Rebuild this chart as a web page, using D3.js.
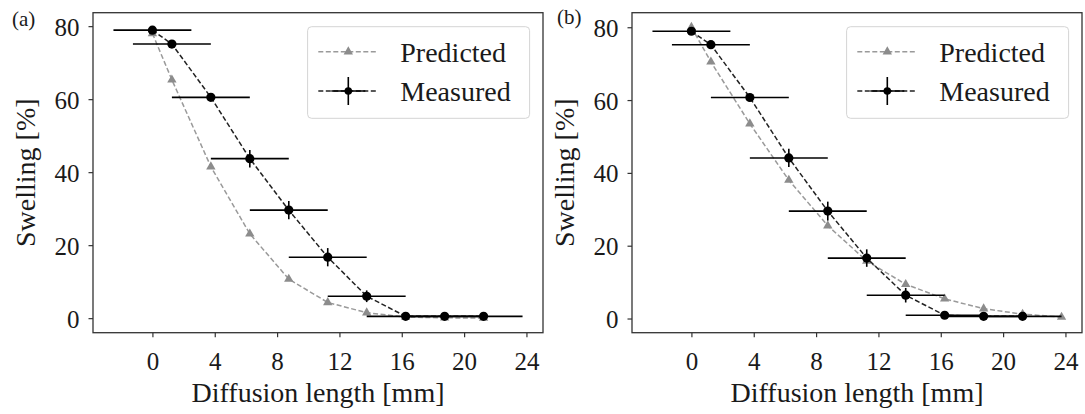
<!DOCTYPE html>
<html>
<head>
<meta charset="utf-8">
<script src="https://cdn.jsdelivr.net/npm/d3@7"></script>
<style>
  html, body { margin: 0; padding: 0; background: #fff; }
  svg { display: block; }
  svg text { font-family: "Times New Roman", "Liberation Serif", Tinos, "DejaVu Serif", serif !important; fill: #1a1a1a; }
</style>
</head>
<body>
<svg id="chart" width="1085" height="414"></svg>
<script>
// ---------------- data ----------------
const panelLabels = ["(a)", "(b)"];
const xTicks = [0, 4, 8, 12, 16, 20, 24];
const yTicks = [0, 20, 40, 60, 80];
const xLabel = "Diffusion length [mm]";
const yLabel = "Swelling [%]";
const seriesNames = ["Predicted", "Measured"];

const measuredX = [0, 1.25, 3.75, 6.25, 8.75, 11.25, 13.75, 16.25, 18.75, 21.25];
const measuredXErr = [2.5, 2.5, 2.5, 2.5, 2.5, 2.5, 2.5, 2.5, 2.5, 2.5];

const predictedXA = [0, 1.25, 3.75, 6.25, 8.75, 11.25, 13.75, 16.25, 18.75, 21.25];
const predictedYA = [78.0, 65.3, 41.5, 23.1, 10.7, 4.3, 1.5, 0.3, 0.1, 0.0];
const measuredYA = [78.9, 75.1, 60.5, 43.7, 29.6, 16.7, 6.0, 0.5, 0.5, 0.5];
const measuredYErrA = [0.8, 0.8, 1.0, 2.4, 2.5, 2.5, 1.6, 0.5, 0.5, 0.5];

const predictedXB = [0, 1.25, 3.75, 6.25, 8.75, 11.25, 13.75, 16.25, 18.75, 21.25, 23.75];
const predictedYB = [80.0, 70.5, 53.5, 38.0, 25.5, 15.8, 9.4, 5.4, 2.7, 1.2, 0.4];
const measuredYB = [78.9, 75.2, 60.7, 44.1, 29.5, 16.6, 6.4, 0.9, 0.6, 0.6];
const measuredYErrB = [0.8, 0.8, 1.0, 2.5, 2.6, 2.4, 2.0, 0.5, 0.5, 0.5];

// ---------------- style / layout ----------------
const FONT = '"Times New Roman", "Liberation Serif", Tinos, "DejaVu Serif", serif';
const predColorLine = "#9a9a9a";
const predColorMarker = "#8c8c8c";
const measColor = "#000";
const frameColor = "#333";
const panels = [
  { left: 93, label: panelLabels[0], labelX: 12, labelY: 26,
    px: predictedXA, py: predictedYA, my: measuredYA, myErr: measuredYErrA },
  { left: 632, label: panelLabels[1], labelX: 557, labelY: 24,
    px: predictedXB, py: predictedYB, my: measuredYB, myErr: measuredYErrB }
];
const frameTop = 12.7, frameH = 320, frameW = 450;

const svg = d3.select("#chart");

function autoDomain(lo, hi) {
  const m = (hi - lo) * 0.05;
  return [lo - m, hi + m];
}

panels.forEach(p => {
  const g = svg.append("g").attr("transform", `translate(${p.left},${frameTop})`);

  const measured = measuredX.map((x, i) => ({ x, y: p.my[i], xe: measuredXErr[i], ye: p.myErr[i] }));
  const predicted = p.px.map((x, i) => ({ x, y: p.py[i] }));

  const xlo = Math.min(d3.min(measured, d => d.x - d.xe), d3.min(predicted, d => d.x));
  const xhi = Math.max(d3.max(measured, d => d.x + d.xe), d3.max(predicted, d => d.x));
  const ylo = Math.min(d3.min(measured, d => d.y - d.ye), d3.min(predicted, d => d.y));
  const yhi = Math.max(d3.max(measured, d => d.y + d.ye), d3.max(predicted, d => d.y));

  const x = d3.scaleLinear().domain(autoDomain(xlo, xhi)).range([0, frameW]);
  const y = d3.scaleLinear().domain(autoDomain(ylo, yhi)).range([frameH, 0]);

  // axes
  const xAxis = g.append("g").attr("transform", `translate(0,${frameH})`)
    .call(d3.axisBottom(x).tickValues(xTicks).tickSize(4.5).tickFormat(d3.format("d")));
  xAxis.attr("font-family", FONT);
  xAxis.select(".domain").remove();
  xAxis.selectAll("line").attr("stroke", frameColor).attr("stroke-width", 1.2);
  xAxis.selectAll("text").attr("y", 37).attr("dy", 0)
    .style("font-size", "25px").style("font-family", FONT).attr("fill", "#1a1a1a");

  const yAxis = g.append("g")
    .call(d3.axisLeft(y).tickValues(yTicks).tickSize(4.5).tickFormat(d3.format("d")));
  yAxis.attr("font-family", FONT);
  yAxis.select(".domain").remove();
  yAxis.selectAll("line").attr("stroke", frameColor).attr("stroke-width", 1.2);
  yAxis.selectAll("text").attr("x", -13.5).attr("dy", "0.36em")
    .style("font-size", "25px").style("font-family", FONT).attr("fill", "#1a1a1a");

  // frame
  g.append("rect").attr("x", 0).attr("y", 0).attr("width", frameW).attr("height", frameH)
    .attr("fill", "none").attr("stroke", frameColor).attr("stroke-width", 1.3);

  // axis labels
  g.append("text").attr("x", frameW / 2).attr("y", frameH + 69)
    .attr("text-anchor", "middle").style("font-size", "28px").style("font-family", FONT).text(xLabel);
  g.append("text").attr("transform", `translate(-58,${frameH / 2}) rotate(-90)`)
    .attr("text-anchor", "middle").style("font-size", "28px").style("font-family", FONT).text(yLabel);

  // panel label
  svg.append("text").attr("x", p.labelX).attr("y", p.labelY)
    .style("font-size", "21px").style("font-family", FONT).text(p.label);

  const plot = g.append("g");

  // predicted
  const line = d3.line().x(d => x(d.x)).y(d => y(d.y));
  plot.append("path").datum(predicted).attr("d", line)
    .attr("fill", "none").attr("stroke", predColorLine).attr("stroke-width", 1.5)
    .attr("stroke-dasharray", "5,2.5");
  const tri = d3.symbol().type(d3.symbolTriangle).size(38);
  plot.selectAll(".pm").data(predicted).enter().append("path")
    .attr("d", tri).attr("transform", d => `translate(${x(d.x)},${y(d.y)})`)
    .attr("fill", predColorMarker);

  // measured line
  plot.append("path").datum(measured).attr("d", line)
    .attr("fill", "none").attr("stroke", "#222").attr("stroke-width", 1.5)
    .attr("stroke-dasharray", "5,2.5");
  // error bars
  plot.selectAll(".xe").data(measured).enter().append("line")
    .attr("x1", d => x(d.x - d.xe)).attr("x2", d => x(d.x + d.xe))
    .attr("y1", d => y(d.y)).attr("y2", d => y(d.y))
    .attr("stroke", measColor).attr("stroke-width", 1.6);
  plot.selectAll(".ye").data(measured).enter().append("line")
    .attr("x1", d => x(d.x)).attr("x2", d => x(d.x))
    .attr("y1", d => y(d.y - d.ye)).attr("y2", d => y(d.y + d.ye))
    .attr("stroke", measColor).attr("stroke-width", 1.6);
  plot.selectAll(".mm").data(measured).enter().append("circle")
    .attr("cx", d => x(d.x)).attr("cy", d => y(d.y)).attr("r", 4.6)
    .attr("fill", measColor);

  // legend
  const lg = g.append("g").attr("transform", `translate(${214.6},${14})`);
  lg.append("rect").attr("width", 222).attr("height", 91.6).attr("rx", 4)
    .attr("fill", "#fff").attr("fill-opacity", 0.8)
    .attr("stroke", "#d4d4d4").attr("stroke-width", 1);
  const r1 = 25, r2 = 64.3, lx1 = 10.7, lx2 = 70.7, lm = 40.7;
  lg.append("line").attr("x1", lx1).attr("x2", lx2).attr("y1", r1).attr("y2", r1)
    .attr("stroke", predColorLine).attr("stroke-width", 1.5).attr("stroke-dasharray", "5,2.5");
  lg.append("path").attr("d", tri).attr("transform", `translate(${lm},${r1})`).attr("fill", predColorMarker);
  lg.append("text").attr("x", 92.7).attr("y", r1 + 10).style("font-size", "28px").style("font-family", FONT).text(seriesNames[0]);

  lg.append("line").attr("x1", lx1).attr("x2", lx2).attr("y1", r2).attr("y2", r2)
    .attr("stroke", "#222").attr("stroke-width", 1.5).attr("stroke-dasharray", "5,2.5");
  lg.append("line").attr("x1", lm - 17).attr("x2", lm + 17).attr("y1", r2).attr("y2", r2)
    .attr("stroke", measColor).attr("stroke-width", 1.6);
  lg.append("line").attr("x1", lm).attr("x2", lm).attr("y1", r2 - 14).attr("y2", r2 + 14)
    .attr("stroke", measColor).attr("stroke-width", 1.6);
  lg.append("circle").attr("cx", lm).attr("cy", r2).attr("r", 3.8).attr("fill", measColor);
  lg.append("text").attr("x", 92.7).attr("y", r2 + 10).style("font-size", "28px").style("font-family", FONT).text(seriesNames[1]);
});
</script>
</body>
</html>
